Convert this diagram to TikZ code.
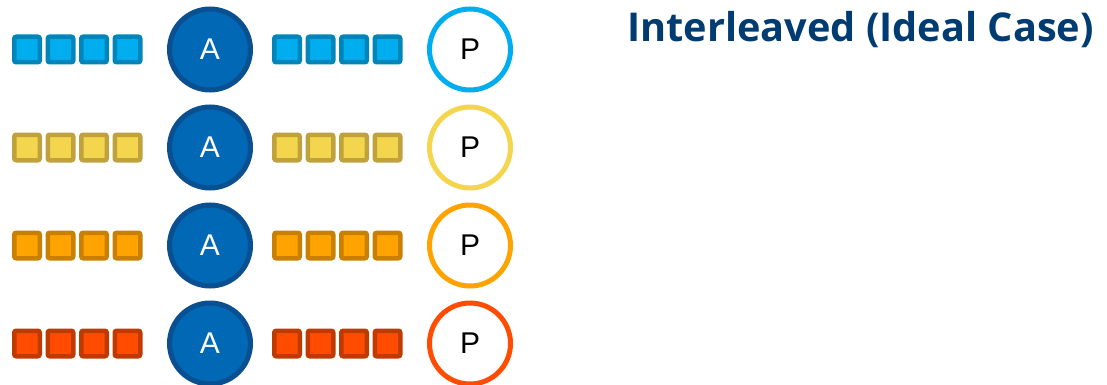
\documentclass[tikz,border=0pt]{standalone}
\usepackage{fontspec}
\setmainfont{Liberation Sans}
\newfontfamily\titlefont{Open Sans}
\definecolor{qblueF}{HTML}{00AEEF}\definecolor{qblueD}{HTML}{0085BA}
\definecolor{qyelF}{HTML}{F3D54E}\definecolor{qyelD}{HTML}{BFA23C}
\definecolor{qoraF}{HTML}{FFA300}\definecolor{qoraD}{HTML}{C97F00}
\definecolor{qredF}{HTML}{FF4C00}\definecolor{qredD}{HTML}{C03A00}
\definecolor{agentF}{HTML}{0068B5}\definecolor{agentD}{HTML}{0A4F8F}
\definecolor{titleblue}{HTML}{003C71}
\tikzset{
  qbox/.style={draw=#1D, fill=#1F, line width=4.5pt, rounded corners=2pt,
    minimum size=25.5pt, inner sep=0pt},
  agent/.style={circle, draw=agentD, fill=agentF, line width=5pt,
    minimum size=81pt, inner sep=0pt, text=white, font=\fontsize{30}{31}\selectfont},
  proc/.style={circle, draw=#1F, fill=white, line width=5pt,
    minimum size=81pt, inner sep=0pt, text=black, font=\fontsize{30}{31}\selectfont},
}
\begin{document}
\begin{tikzpicture}[x=1pt,y=-1pt]
  \useasboundingbox (0,0) rectangle (1107,385);
  \foreach \c [count=\r] in {qblue,qyel,qora,qred} {
    \pgfmathsetmacro{\yy}{49.5+98*(\r-1)}
    \foreach \k in {1,...,4} {
      \node[qbox=\c] (in-\r-\k) at ({27+33.5*(\k-1)},\yy) {};
      \node[qbox=\c] (out-\r-\k) at ({287+33.5*(\k-1)},\yy) {};
    }
    \node[agent] (a-\r) at (210,\yy) {A};
    \node[proc=\c] (p-\r) at (470,\yy) {P};
  }
  \node[anchor=base west, inner sep=0pt, text=titleblue,
    font=\titlefont\bfseries\fontsize{39.7}{41}\selectfont] (title) at (627,41.7)
    {Interleaved (Ideal Case)};
\end{tikzpicture}
\end{document}
